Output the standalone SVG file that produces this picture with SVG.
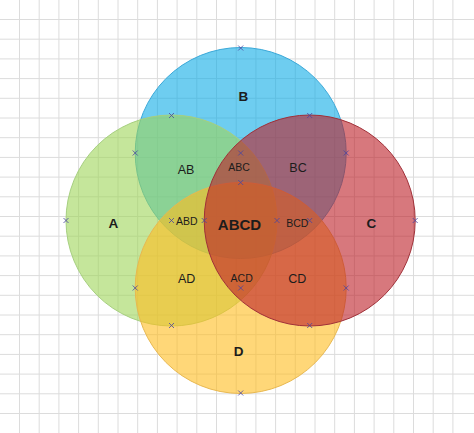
<svg xmlns="http://www.w3.org/2000/svg" width="474" height="433" viewBox="0 0 474 433">
<defs>
<style>
.grid line{stroke:#dcdcdc;stroke-width:1}
.c{stroke-width:1}
.lbl{font-family:"Liberation Sans",Arial,sans-serif;fill:#1c1c1c;text-anchor:middle}
.big{font-size:13.5px;font-weight:bold}
.two{font-size:12.5px}
.three{font-size:10.5px}
.mk{stroke:#4a45a0;stroke-width:1;stroke-opacity:0.8;fill:none}
</style>
<path id="x" d="M-2.5,-2.5 L2.5,2.5 M-2.5,2.5 L2.5,-2.5"/>
</defs>
<rect width="474" height="433" fill="#ffffff"/>
<g class="grid">
<line x1="19.5" y1="0" x2="19.5" y2="433"/><line x1="39.2" y1="0" x2="39.2" y2="433"/><line x1="58.9" y1="0" x2="58.9" y2="433"/><line x1="78.6" y1="0" x2="78.6" y2="433"/><line x1="98.3" y1="0" x2="98.3" y2="433"/><line x1="118" y1="0" x2="118" y2="433"/><line x1="137.7" y1="0" x2="137.7" y2="433"/><line x1="157.4" y1="0" x2="157.4" y2="433"/><line x1="177.1" y1="0" x2="177.1" y2="433"/><line x1="196.8" y1="0" x2="196.8" y2="433"/><line x1="216.5" y1="0" x2="216.5" y2="433"/><line x1="236.2" y1="0" x2="236.2" y2="433"/><line x1="255.9" y1="0" x2="255.9" y2="433"/><line x1="275.6" y1="0" x2="275.6" y2="433"/><line x1="295.3" y1="0" x2="295.3" y2="433"/><line x1="315" y1="0" x2="315" y2="433"/><line x1="334.7" y1="0" x2="334.7" y2="433"/><line x1="354.4" y1="0" x2="354.4" y2="433"/><line x1="374.1" y1="0" x2="374.1" y2="433"/><line x1="393.8" y1="0" x2="393.8" y2="433"/><line x1="413.5" y1="0" x2="413.5" y2="433"/><line x1="433.2" y1="0" x2="433.2" y2="433"/><line x1="452.9" y1="0" x2="452.9" y2="433"/>
<line x1="0" y1="19.5" x2="474" y2="19.5"/><line x1="0" y1="39.2" x2="474" y2="39.2"/><line x1="0" y1="58.9" x2="474" y2="58.9"/><line x1="0" y1="78.6" x2="474" y2="78.6"/><line x1="0" y1="98.3" x2="474" y2="98.3"/><line x1="0" y1="118" x2="474" y2="118"/><line x1="0" y1="137.7" x2="474" y2="137.7"/><line x1="0" y1="157.4" x2="474" y2="157.4"/><line x1="0" y1="177.1" x2="474" y2="177.1"/><line x1="0" y1="196.8" x2="474" y2="196.8"/><line x1="0" y1="216.5" x2="474" y2="216.5"/><line x1="0" y1="236.2" x2="474" y2="236.2"/><line x1="0" y1="255.9" x2="474" y2="255.9"/><line x1="0" y1="275.6" x2="474" y2="275.6"/><line x1="0" y1="295.3" x2="474" y2="295.3"/><line x1="0" y1="315" x2="474" y2="315"/><line x1="0" y1="334.7" x2="474" y2="334.7"/><line x1="0" y1="354.4" x2="474" y2="354.4"/><line x1="0" y1="374.1" x2="474" y2="374.1"/><line x1="0" y1="393.8" x2="474" y2="393.8"/><line x1="0" y1="413.5" x2="474" y2="413.5"/>
</g>
<g id="circleB"><circle class="c" cx="240.7" cy="153" r="105.5" fill="#0dace6" fill-opacity="0.6" stroke="#3aa8d8"/></g>
<g id="circleA"><circle class="c" cx="171.5" cy="220.5" r="105.5" fill="#9ed558" fill-opacity="0.6" stroke="#a6cf80"/></g>
<g id="circleD"><circle class="c" cx="240.7" cy="288" r="105.5" fill="#ffbc1e" fill-opacity="0.6" stroke="#e8b850"/></g>
<g id="circleC"><circle class="c" cx="309.7" cy="220.5" r="105.5" fill="#bc1e26" fill-opacity="0.6" stroke="#a03038"/></g>
<g id="markers" class="mk">
<use href="#x" x="240.7" y="48"/><use href="#x" x="171.5" y="115.5"/><use href="#x" x="309.7" y="115.5"/><use href="#x" x="135.2" y="153"/><use href="#x" x="346.2" y="153"/><use href="#x" x="240.7" y="153"/><use href="#x" x="240.7" y="182.5"/><use href="#x" x="66" y="220.5"/><use href="#x" x="171.5" y="220.5"/><use href="#x" x="204.2" y="220.5"/><use href="#x" x="277" y="220.5"/><use href="#x" x="309.7" y="220.5"/><use href="#x" x="415.2" y="220.5"/><use href="#x" x="135.2" y="288"/><use href="#x" x="240.7" y="288"/><use href="#x" x="346.2" y="288"/><use href="#x" x="171.5" y="325.5"/><use href="#x" x="309.7" y="325.5"/><use href="#x" x="240.7" y="393"/>
</g>
<g id="labels">
<text class="lbl big" x="243.3" y="100.8">B</text>
<text class="lbl big" x="113.3" y="228">A</text>
<text class="lbl big" x="371.3" y="228">C</text>
<text class="lbl big" x="238.7" y="355.5">D</text>
<text class="lbl" x="239.5" y="229.6" style="font-size:15px;font-weight:bold">ABCD</text>
<text class="lbl two" x="186" y="173.8">AB</text>
<text class="lbl three" x="239" y="171">ABC</text>
<text class="lbl two" x="298" y="171.8">BC</text>
<text class="lbl three" x="186.7" y="224.8">ABD</text>
<text class="lbl three" x="297.3" y="227">BCD</text>
<text class="lbl two" x="186.7" y="282.8">AD</text>
<text class="lbl three" x="241.7" y="282">ACD</text>
<text class="lbl two" x="297.3" y="282.5">CD</text>
</g>
</svg>
